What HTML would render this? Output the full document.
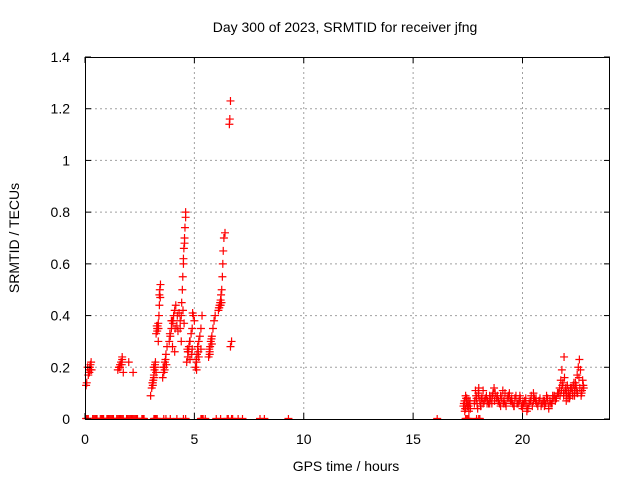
<!DOCTYPE html>
<html><head><meta charset="utf-8"><style>
body{margin:0;background:#fff}
svg{display:block;font-family:"Liberation Sans",sans-serif;font-size:14px}
</style></head><body>
<svg id="c" width="640" height="480" xmlns="http://www.w3.org/2000/svg">
<rect width="640" height="480" fill="#fff"/>
<text x="345" y="32" text-anchor="middle">Day 300 of 2023, SRMTID for receiver jfng</text>
<text x="346" y="471" text-anchor="middle">GPS time / hours</text>
<text transform="translate(19,238) rotate(-90)" text-anchor="middle">SRMTID / TECUs</text>
<g id="grid"></g><g id="pts"></g><g id="axes"></g>
</svg>
<script>
const xTicks=[0,5,10,15,20];
const yTicks=[0,0.2,0.4,0.6,0.8,1,1.2,1.4];
const yTickLabels=["0","0.2","0.4","0.6","0.8","1","1.2","1.4"];
const zeroTimes=[0.05,0.1,0.15,0.35,0.4,0.45,0.5,0.55,0.7,0.75,0.8,0.85,1.0,1.05,1.1,1.15,1.2,1.25,1.3,1.45,1.5,1.55,1.6,1.65,1.7,1.75,1.9,1.95,2.0,2.05,2.1,2.15,2.2,2.25,2.3,2.35,2.4,2.6,2.65,2.7,3.15,3.2,3.25,3.3,3.6,3.7,3.9,4.2,4.5,4.6,5.3,5.35,5.4,5.5,6.0,6.2,6.5,6.55,6.7,6.75,7.0,7.2,8.0,8.2,9.3,16.1,17.4,17.45,17.5,17.55,17.9,18.0,18.05];
const dayTimes=[0.05,0.08,0.15,0.18,0.2,0.22,0.25,0.28,0.3,0.2,0.12,0.24,
1.5,1.55,1.6,1.65,1.7,1.75,1.6,1.7,1.58,1.68,2.0,2.2,
3.0,3.05,3.1,3.12,3.15,3.18,3.2,3.22,3.1,3.15,3.25,3.08,3.14,3.2,
3.25,3.3,3.32,3.35,3.38,3.4,3.4,3.42,3.45,3.3,3.35,3.28,3.36,3.44,
3.55,3.6,3.62,3.65,3.7,3.75,3.58,3.68,3.72,3.64,
3.85,3.9,3.95,4.0,4.05,4.1,4.15,4.2,4.0,4.1,4.25,4.3,3.95,3.88,4.02,4.12,4.22,
4.35,4.4,4.42,4.45,4.47,4.5,4.5,4.52,4.55,4.55,4.57,4.6,4.6,4.35,4.4,4.48,4.53,
4.65,4.7,4.72,4.75,4.8,4.85,4.9,4.95,4.7,4.8,4.9,4.92,5.0,4.68,4.78,4.88,
5.05,5.1,5.12,5.15,5.2,5.25,5.3,5.35,5.1,5.2,5.3,5.08,5.18,
5.65,5.7,5.72,5.75,5.8,5.85,5.9,5.95,5.7,5.8,5.68,5.78,
6.1,6.12,6.15,6.18,6.2,6.22,6.25,6.28,6.3,6.32,6.35,6.4,6.2,6.14,6.24,
6.6,6.62,6.65,6.65,6.7];
const dayVals=[0.13,0.14,0.17,0.18,0.19,0.2,0.21,0.22,0.19,0.18,0.2,0.19,
0.19,0.2,0.21,0.22,0.24,0.18,0.2,0.23,0.2,0.21,0.22,0.18,
0.09,0.12,0.14,0.15,0.17,0.19,0.2,0.22,0.13,0.16,0.18,0.14,0.2,0.21,
0.33,0.35,0.36,0.37,0.4,0.44,0.48,0.5,0.52,0.34,0.3,0.36,0.35,0.47,
0.16,0.18,0.2,0.22,0.25,0.28,0.2,0.23,0.21,0.19,
0.3,0.32,0.35,0.38,0.4,0.42,0.44,0.36,0.28,0.26,0.34,0.41,0.38,0.33,0.37,0.35,0.4,
0.38,0.4,0.45,0.5,0.55,0.6,0.62,0.66,0.68,0.7,0.74,0.78,0.8,0.35,0.3,0.42,0.37,
0.22,0.24,0.26,0.28,0.3,0.33,0.35,0.4,0.26,0.23,0.27,0.41,0.38,0.27,0.3,0.25,
0.2,0.22,0.25,0.28,0.3,0.32,0.35,0.4,0.19,0.24,0.27,0.23,0.26,
0.24,0.26,0.28,0.3,0.32,0.35,0.38,0.4,0.25,0.29,0.27,0.31,
0.42,0.43,0.44,0.45,0.46,0.48,0.5,0.55,0.6,0.65,0.7,0.72,0.44,0.43,0.45,
1.14,1.16,1.23,0.28,0.3];
const eveTimes=[17.3,17.35,17.4,17.45,17.5,17.55,17.6,17.4,17.5,17.8,17.85,17.9,17.95,18.0,18.05,18.1,18.2,18.3,18.4,18.5,18.6,18.7,18.75,18.8,18.9,19.0,19.1,19.2,19.3,19.4,19.5,19.6,19.7,19.8,19.9,20.0,20.1,20.2,20.3,20.4,20.5,20.6,20.7,20.8,20.9,21.0,21.1,21.2,21.3,21.4,21.5,21.6,21.7,21.75,21.8,21.85,21.9,21.95,22.0,22.05,22.1,22.15,22.2,22.3,22.35,22.4,22.45,22.5,22.55,22.6,22.65,22.7,22.75,22.8,18.0,18.5,19.0,19.5,20.0,20.5,21.0,21.5,22.0,22.5,20.2,21.2,19.2,18.2,
17.32,17.38,17.42,17.48,17.52,17.58,17.62,17.36,17.44,17.54,17.82,17.88,17.92,17.98,18.08,18.15,18.25,18.35,18.45,18.55,18.65,18.72,18.85,18.95,19.05,19.15,19.25,19.35,19.45,19.55,19.65,19.75,19.85,19.95,20.05,20.15,20.25,20.35,20.45,20.55,20.65,20.75,20.85,20.95,21.05,21.15,21.25,21.35,21.45,21.55,21.65,21.72,21.78,21.82,21.88,21.92,21.98,22.02,22.08,22.12,22.18,22.25,22.28,22.32,22.38,22.42,22.48,22.52,22.58,22.62,22.68,22.72,22.78,18.12,18.38,18.62,18.88,19.12,19.38,19.62,19.88,20.12,20.38,20.62,20.88,21.12,21.38,21.62,21.88,22.12,22.38,22.62];
const eveVals=[0.05,0.07,0.04,0.08,0.06,0.03,0.07,0.09,0.05,0.06,0.11,0.08,0.04,0.12,0.07,0.05,0.06,0.08,0.07,0.09,0.06,0.12,0.1,0.08,0.07,0.09,0.11,0.06,0.08,0.1,0.07,0.05,0.09,0.06,0.08,0.04,0.07,0.05,0.06,0.09,0.1,0.07,0.05,0.08,0.06,0.07,0.09,0.05,0.06,0.08,0.07,0.1,0.12,0.15,0.19,0.14,0.24,0.11,0.09,0.13,0.1,0.08,0.12,0.09,0.14,0.11,0.13,0.17,0.2,0.23,0.19,0.1,0.15,0.12,0.09,0.06,0.05,0.08,0.06,0.07,0.05,0.08,0.07,0.1,0.03,0.04,0.1,0.11,
0.06,0.04,0.08,0.05,0.07,0.06,0.04,0.03,0.06,0.05,0.07,0.09,0.06,0.1,0.05,0.08,0.07,0.09,0.06,0.08,0.1,0.07,0.09,0.06,0.08,0.07,0.05,0.09,0.07,0.06,0.08,0.06,0.07,0.05,0.06,0.08,0.04,0.07,0.05,0.08,0.06,0.07,0.05,0.07,0.06,0.08,0.07,0.06,0.09,0.08,0.1,0.09,0.11,0.13,0.1,0.16,0.12,0.1,0.08,0.11,0.09,0.12,0.1,0.13,0.09,0.14,0.11,0.1,0.16,0.12,0.09,0.11,0.13,0.08,0.06,0.09,0.07,0.06,0.08,0.05,0.09,0.06,0.07,0.08,0.06,0.07,0.09,0.1,0.09,0.1,0.11];
const L=85,R=610,T=57,B=419,XMAX=24,YMAX=1.4;
const X=t=>L+t/XMAX*(R-L), Y=v=>B-v/YMAX*(B-T);
const NS="http://www.w3.org/2000/svg";
function mk(tag,attrs,parent){const e=document.createElementNS(NS,tag);for(const k in attrs)e.setAttribute(k,attrs[k]);parent.appendChild(e);return e;}
const grid=document.getElementById('grid'),axes=document.getElementById('axes'),pts=document.getElementById('pts');
yTicks.forEach((v,i)=>{const y=Y(v);
 if(v>0&&v<YMAX){const g=mk('line',{x1:L,x2:R,y1:y,y2:y,stroke:'#a0a0a0','stroke-dasharray':'2,3'},grid);
 
 }
 const t=mk('line',{x1:L,x2:L+6,y1:y,y2:y,stroke:'#000'},axes);
 
 
 const t2=mk('line',{x1:R-6,x2:R,y1:y,y2:y,stroke:'#000'},axes);
 
 
 const lb=mk('text',{x:L-15,y:y+5,'text-anchor':'end'},axes);lb.textContent=yTickLabels[i];
 
 });
xTicks.forEach(t=>{const x=X(t);
 if(t>0){const g=mk('line',{x1:x,x2:x,y1:T,y2:B,stroke:'#a0a0a0','stroke-dasharray':'2,3'},grid);
 
 }
 const k=mk('line',{x1:x,x2:x,y1:B,y2:B-6,stroke:'#000'},axes);
 
 
 const k2=mk('line',{x1:x,x2:x,y1:T,y2:T+6,stroke:'#000'},axes);
 
 
 const lb=mk('text',{x:x,y:B+25,'text-anchor':'middle'},axes);lb.textContent=t;
 
 });
function plus(t,v){const x=X(t),y=Y(v);
 const d=v===0?`M${x-4},${y-0.5}h8M${x},${y-4}v4`:`M${x-4},${y}h8M${x},${y-4}v8`;
 const p=mk('path',{d:d,stroke:'#f00','stroke-width':1.2},pts);
 
 }
zeroTimes.forEach(t=>plus(t,0));
dayTimes.forEach((t,i)=>plus(t,dayVals[i]));
eveTimes.forEach((t,i)=>plus(t,eveVals[i]));
const fr=mk('rect',{x:L+0.5,y:T+0.5,width:R-L-1,height:B-T,fill:'none',stroke:'#000'},axes);


</script>
</body></html>
